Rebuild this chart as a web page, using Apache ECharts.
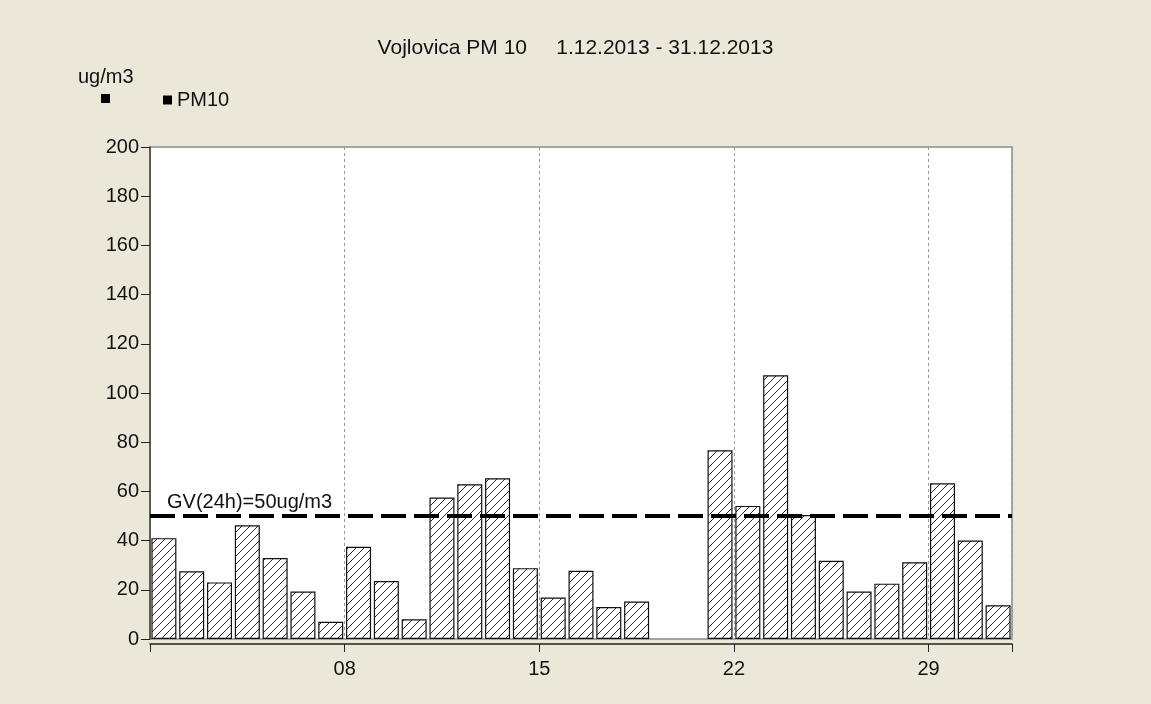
<!DOCTYPE html>
<html>
<head>
<meta charset="utf-8">
<script src="https://cdn.jsdelivr.net/npm/echarts@6/dist/echarts.min.js"></script>
<style>
html,body{margin:0;padding:0;background:#ebe8d9;}
#c{width:1151px;height:704px;}
</style>
</head>
<body>
<div id="c"></div>
<script>
// Data
var days = [1,2,3,4,5,6,7,8,9,10,11,12,13,14,15,16,17,18,19,20,21,22,23,24,25,26,27,28,29,30,31];
var pm10 = [41,27.5,23,46.2,32.9,19.3,7,37.5,23.6,8,57.5,62.9,65.3,28.8,16.9,27.7,13,15.2,null,null,76.7,54.1,107.2,50.4,31.8,19.3,22.5,31.2,63.3,40,13.7];
var xTickLabels = {8:'08',15:'15',22:'22',29:'29'};
var limitValue = 50;
var limitLabel = 'GV(24h)=50ug/m3';
var titleText = 'Vojlovica PM 10     1.12.2013 - 31.12.2013';
var unitText = 'ug/m3';
var seriesName = 'PM10';

// hatch pattern
var pc = document.createElement('canvas');
pc.width = 8; pc.height = 8;
var ctx = pc.getContext('2d');
ctx.fillStyle = '#ffffff';
ctx.fillRect(0,0,8,8);
ctx.strokeStyle = '#2a2a2a';
ctx.lineWidth = 1;
ctx.beginPath();
ctx.moveTo(-1,9); ctx.lineTo(9,-1);
ctx.moveTo(-1,1); ctx.lineTo(1,-1);
ctx.moveTo(7,9); ctx.lineTo(9,7);
ctx.stroke();

var barData = days.map(function(d,i){ return [d + 0.5, pm10[i]]; });

var font = 'Liberation Sans, Arial, sans-serif';
var chart = echarts.init(document.getElementById('c'), null, {renderer:'canvas'});
chart.setOption({
  backgroundColor: '#ebe8d9',
  animation: false,
  textStyle: {fontFamily: font},
  title: [
    {text: titleText, left: 'center', top: 33,
     textStyle: {fontSize: 21, fontWeight: 'normal', color: '#111', fontFamily: font}},
    {text: unitText, left: 73, top: 62,
     textStyle: {fontSize: 20, fontWeight: 'normal', color: '#111', fontFamily: font}}
  ],
  legend: [
    {left: 96, top: 89, selectedMode: false, icon: 'rect', itemWidth: 9, itemHeight: 9,
     data: [{name: '\u00a0', itemStyle: {color: '#000'}}],
     formatter: function(){ return ''; },
     textStyle: {fontSize: 20, color: '#111'}},
    {left: 158, top: 85, selectedMode: false, icon: 'rect', itemWidth: 9, itemHeight: 9,
     data: [{name: seriesName, itemStyle: {color: '#000', borderWidth: 0}}],
     textStyle: {fontSize: 20, color: '#111', fontFamily: font}}
  ],
  grid: {left: 150, top: 147, right: 139, bottom: 65, show: true,
         backgroundColor: '#ffffff', borderColor: '#8a8a8a', borderWidth: 1.5},
  xAxis: {
    type: 'value', min: 1, max: 32, interval: 7, offset: 5,
    axisLine: {show: true, onZero: false, lineStyle: {color: '#222', width: 1.5}},
    axisTick: {show: true, length: 8, lineStyle: {color: '#222'}},
    axisLabel: {fontSize: 20, color: '#111', margin: 15, fontFamily: font,
      formatter: function(v){ return xTickLabels[v] || ''; }},
    splitLine: {show: true, lineStyle: {color: '#999', type: [3,3], width: 1}}
  },
  yAxis: {
    type: 'value', min: 0, max: 200, interval: 20,
    axisLine: {show: true, lineStyle: {color: '#444', width: 1.5}},
    axisTick: {show: true, length: 9, lineStyle: {color: '#222'}},
    axisLabel: {fontSize: 20, color: '#111', margin: 11, fontFamily: font},
    splitLine: {show: false}
  },
  series: [
    {name: '\u00a0', type: 'line', data: []},
    {name: seriesName, type: 'bar', data: barData, barWidth: 25,
     itemStyle: {color: {image: pc, repeat: 'repeat'}, borderColor: '#111', borderWidth: 1.2},
     markLine: {
       silent: true, symbol: ['none','none'],
       lineStyle: {color: '#000', width: 4, type: [25,8]},
       label: {show: true, position: 'insideStartTop', formatter: limitLabel,
               fontSize: 20, color: '#111', fontFamily: font, distance: [17, 4]},
       data: [{yAxis: limitValue}]
     }}
  ]
});
</script>
</body>
</html>
